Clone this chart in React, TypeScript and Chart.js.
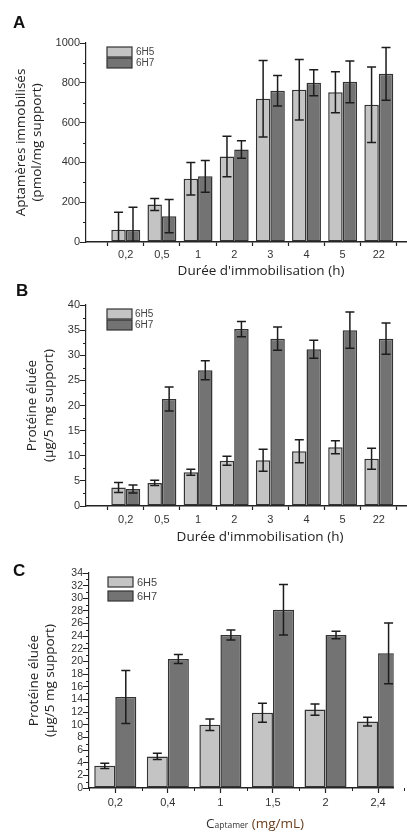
import React, { useEffect, useRef } from 'react';
import { Chart, registerables } from 'chart.js';

Chart.register(...registerables);

// ---------- data ----------
const SERIES = ['6H5', '6H7'];

const DURATION_LABELS = ['0,2', '0,5', '1', '2', '3', '4', '5', '22'];

const A_6H5 = [62, 188, 318, 430, 720, 765, 752, 690];
const A_6H5_ERR = [88, 30, 82, 102, 192, 152, 103, 190];
const A_6H7 = [60, 130, 330, 465, 760, 800, 805, 845];
const A_6H7_ERR = [115, 83, 80, 44, 77, 65, 105, 133];
const A_Y_MAJOR = [0, 200, 400, 600, 800, 1000];

const B_6H5 = [3.7, 4.6, 6.7, 9.0, 9.1, 10.9, 11.7, 9.4];
const B_6H5_ERR = [1.0, 0.5, 0.6, 0.9, 2.2, 2.3, 1.3, 2.1];
const B_6H7 = [3.4, 21.3, 27.0, 35.2, 33.3, 31.2, 35.0, 33.3];
const B_6H7_ERR = [0.8, 2.4, 1.9, 1.5, 2.3, 1.8, 3.6, 3.1];
const B_Y_MAJOR = [0, 5, 10, 15, 20, 25, 30, 35, 40];

const CONC_LABELS = ['0,2', '0,4', '1', '1,5', '2', '2,4'];
const C_6H5 = [3.5, 5.0, 10.0, 11.9, 12.4, 10.5];
const C_6H5_ERR = [0.4, 0.5, 0.9, 1.5, 0.9, 0.7];
const C_6H7 = [14.4, 20.4, 24.2, 28.2, 24.2, 21.3];
const C_6H7_ERR = [4.2, 0.7, 0.8, 4.0, 0.6, 4.8];
const C_Y_MAJOR = [0, 2, 4, 6, 8, 10, 12, 14, 16, 18, 20, 22, 24, 26, 28, 30, 32, 34];

// ---------- styles ----------
const FILLS = ['#c4c4c4', '#737373'];
const BORDER = '#333333';
const AXIS = '#222222';
const TICK_FONT = 'Liberation Sans';
const TITLE_FONT = 'Open Sans';

type TitlePart = { text: string; size: number; color: string };

type PanelCfg = {
  top: number;
  height: number;
  letter: string;
  letterX: number;
  letterY: number;
  labels: string[];
  values: number[][];
  errors: number[][];
  yMajor: number[];
  xMin: number;
  xMax: number;
  padTop: number;
  padRight: number;
  yWidth: number;
  xHeight: number;
  yTitle: string[];
  yTitlePad: number;
  yTickSize: number;
  xCenterTicks: boolean;
  xTickPad: number;
  xTitle: TitlePart[];
  xTitleCenter: number;
  xTitleY: number;
  legend: { x: number; y: number; w: number; h: number; step: number; size: number; tx: number };
};

function Panel({ cfg }: { cfg: PanelCfg }) {
  const ref = useRef<HTMLCanvasElement>(null);

  useEffect(() => {
    const canvas = ref.current!;
    const n = cfg.labels.length;
    const xTicks: number[] = [];
    for (let i = 0; i <= n; i++) {
      xTicks.push(i - 0.5);
      if (i < n) xTicks.push(i);
    }
    const yTicks: number[] = [];
    cfg.yMajor.forEach((v, i) => {
      yTicks.push(v);
      if (i < cfg.yMajor.length - 1) yTicks.push((v + cfg.yMajor[i + 1]) / 2);
    });
    const yMax = cfg.yMajor[cfg.yMajor.length - 1];
    const isMajorY = (v: number) => cfg.yMajor.includes(v);

    const decor = {
      id: 'decor',
      afterDatasetsDraw(chart: any) {
        const ctx = chart.ctx;
        const ys = chart.scales.y;
        const area = chart.chartArea;
        ctx.save();
        ctx.beginPath();
        ctx.rect(area.left, 0, area.right - area.left, area.bottom);
        ctx.clip();
        ctx.strokeStyle = '#1c1c1c';
        ctx.lineWidth = 1.5;
        chart.data.datasets.forEach((ds: any, d: number) => {
          const meta = chart.getDatasetMeta(d);
          meta.data.forEach((el: any, j: number) => {
            const v = ds.data[j].y;
            const e = cfg.errors[d][j];
            const yt = ys.getPixelForValue(v + e);
            const yb = ys.getPixelForValue(v - e);
            const x = el.x;
            const cap = 4.5;
            ctx.beginPath();
            ctx.moveTo(x, yt);
            ctx.lineTo(x, yb);
            ctx.moveTo(x - cap, yt);
            ctx.lineTo(x + cap, yt);
            ctx.moveTo(x - cap, yb);
            ctx.lineTo(x + cap, yb);
            ctx.stroke();
          });
        });
        ctx.restore();
      },
      afterDraw(chart: any) {
        const ctx = chart.ctx;
        const xs = chart.scales.x;
        const ys = chart.scales.y;
        const area = chart.chartArea;
        ctx.save();
        // minor tick marks (shorter)
        ctx.strokeStyle = AXIS;
        ctx.lineWidth = 1;
        ctx.beginPath();
        yTicks.forEach((v) => {
          if (isMajorY(v)) return;
          const py = Math.round(ys.getPixelForValue(v)) + 0.5;
          ctx.moveTo(area.left - 3, py);
          ctx.lineTo(area.left, py);
        });
        if (cfg.xCenterTicks) {
          xTicks.forEach((v) => {
            if (Number.isInteger(v)) return;
            const px = Math.round(xs.getPixelForValue(v)) + 0.5;
            ctx.moveTo(px, area.bottom);
            ctx.lineTo(px, area.bottom + 3);
          });
        }
        ctx.stroke();
        // legend
        const lg = cfg.legend;
        SERIES.forEach((name, i) => {
          const y = lg.y + i * lg.step;
          ctx.fillStyle = FILLS[i];
          ctx.fillRect(lg.x, y, lg.w, lg.h);
          ctx.strokeStyle = BORDER;
          ctx.lineWidth = 1.2;
          ctx.strokeRect(lg.x, y, lg.w, lg.h);
          ctx.fillStyle = '#444';
          ctx.font = `${lg.size}px "${TICK_FONT}"`;
          ctx.textBaseline = 'middle';
          ctx.textAlign = 'left';
          ctx.fillText(name, lg.tx, y + lg.h / 2 + 0.5);
        });
        // x title
        let total = 0;
        cfg.xTitle.forEach((p) => {
          ctx.font = `${p.size}px "${TITLE_FONT}"`;
          total += ctx.measureText(p.text).width;
        });
        let x = cfg.xTitleCenter - total / 2;
        ctx.textBaseline = 'middle';
        ctx.textAlign = 'left';
        cfg.xTitle.forEach((p) => {
          ctx.font = `${p.size}px "${TITLE_FONT}"`;
          ctx.fillStyle = p.color;
          ctx.fillText(p.text, x, cfg.xTitleY + (p.size < 12 ? 1.5 : 0));
          x += ctx.measureText(p.text).width;
        });
        // panel letter
        ctx.font = `bold 17px "${TICK_FONT}"`;
        ctx.fillStyle = '#111';
        ctx.textBaseline = 'alphabetic';
        ctx.fillText(cfg.letter, cfg.letterX, cfg.letterY);
        ctx.restore();
      },
    };

    const chart = new Chart(canvas, {
      type: 'bar',
      data: {
        datasets: SERIES.map((name, i) => ({
          label: name,
          data: cfg.values[i].map((v, j) => ({ x: j, y: v })),
          backgroundColor: FILLS[i],
          borderColor: BORDER,
          borderWidth: 1.5,
          borderSkipped: false,
          // ruler spacing is half a category (tick marks sit at the group boundaries)
          categoryPercentage: 1.6,
          barPercentage: 1.0,
        })),
      },
      options: {
        responsive: false,
        animation: false,
        layout: { padding: { top: cfg.padTop, right: cfg.padRight, left: 0, bottom: 0 } },
        plugins: { legend: { display: false }, tooltip: { enabled: false } },
        scales: {
          x: {
            type: 'linear',
            offset: false,
            min: cfg.xMin,
            max: cfg.xMax,
            afterBuildTicks: (s: any) => {
              s.ticks = xTicks.map((v) => ({ value: v }));
            },
            afterFit: (s: any) => {
              s.height = cfg.xHeight;
            },
            grid: {
              offset: false,
              drawOnChartArea: false,
              tickLength: cfg.xCenterTicks ? 5 : 4,
              tickColor: (c: any) => {
                const isCenter = Number.isInteger(c.tick?.value);
                if (cfg.xCenterTicks) return isCenter ? AXIS : 'rgba(0,0,0,0)';
                return isCenter ? 'rgba(0,0,0,0)' : AXIS;
              },
              tickWidth: 1.2,
            },
            border: { display: true, color: AXIS, width: 1.4 },
            ticks: {
              autoSkip: false,
              maxRotation: 0,
              padding: cfg.xTickPad,
              color: '#333',
              font: { family: TICK_FONT, size: 11 },
              callback: (v: any) => {
                const n2 = Number(v);
                return Number.isInteger(n2) && n2 >= 0 && n2 < cfg.labels.length ? cfg.labels[n2] : '';
              },
            },
          },
          y: {
            type: 'linear',
            min: 0,
            max: yMax,
            afterBuildTicks: (s: any) => {
              s.ticks = yTicks.map((v) => ({ value: v }));
            },
            afterFit: (s: any) => {
              s.width = cfg.yWidth;
            },
            grid: {
              drawOnChartArea: false,
              tickLength: 6,
              tickColor: (c: any) => (isMajorY(Number(c.tick?.value)) ? AXIS : 'rgba(0,0,0,0)'),
              tickWidth: 1,
            },
            border: { display: true, color: AXIS, width: 1.2 },
            ticks: {
              autoSkip: false,
              padding: 0,
              color: '#333',
              font: { family: TICK_FONT, size: cfg.yTickSize },
              callback: (v: any) => (isMajorY(Number(v)) ? String(v) : ''),
            },
            title: {
              display: true,
              text: cfg.yTitle,
              color: '#222',
              font: { family: TITLE_FONT, size: 13.5, lineHeight: 1.22 },
              padding: { top: cfg.yTitlePad, bottom: 0 },
            },
          },
        },
      },
      plugins: [decor],
    } as any);
    return () => chart.destroy();
  }, []);

  return (
    <div style={{ position: 'absolute', left: 0, top: cfg.top, width: 407, height: cfg.height }}>
      <canvas ref={ref} width={407} height={cfg.height} style={{ display: 'block' }} />
    </div>
  );
}

const PANEL_A: PanelCfg = {
  top: 0,
  height: 282,
  letter: 'A',
  letterX: 13,
  letterY: 28,
  labels: DURATION_LABELS,
  values: [A_6H5, A_6H7],
  errors: [A_6H5_ERR, A_6H7_ERR],
  yMajor: A_Y_MAJOR,
  xMin: -1.1,
  xMax: 7.78,
  padTop: 43,
  padRight: 0,
  yWidth: 86,
  xHeight: 40,
  yTitle: ['Aptamères immobilisés', '(pmol/mg support)'],
  yTitlePad: 12.5,
  yTickSize: 11,
  xCenterTicks: false,
  xTickPad: 2,
  xTitle: [{ text: "Durée d'immobilisation (h)", size: 13.5, color: '#222' }],
  xTitleCenter: 261,
  xTitleY: 271,
  legend: { x: 107, y: 47, w: 25, h: 10, step: 11, size: 10, tx: 136 },
};

const PANEL_B: PanelCfg = {
  top: 280,
  height: 276,
  letter: 'B',
  letterX: 16,
  letterY: 16,
  labels: DURATION_LABELS,
  values: [B_6H5, B_6H7],
  errors: [B_6H5_ERR, B_6H7_ERR],
  yMajor: B_Y_MAJOR,
  xMin: -1.1,
  xMax: 7.78,
  padTop: 25,
  padRight: 0,
  yWidth: 86,
  xHeight: 50,
  yTitle: ['Protéine éluée', '(µg/5 mg support)'],
  yTitlePad: 24,
  yTickSize: 11,
  xCenterTicks: false,
  xTickPad: 3,
  xTitle: [{ text: "Durée d'immobilisation (h)", size: 13.5, color: '#222' }],
  xTitleCenter: 260,
  xTitleY: 257,
  legend: { x: 107, y: 29, w: 25, h: 10, step: 11, size: 10, tx: 135 },
};

const PANEL_C: PanelCfg = {
  top: 556,
  height: 279,
  letter: 'C',
  letterX: 13,
  letterY: 20,
  labels: CONC_LABELS,
  values: [C_6H5, C_6H7],
  errors: [C_6H5_ERR, C_6H7_ERR],
  yMajor: C_Y_MAJOR,
  xMin: -0.5,
  xMax: 5.3,
  padTop: 17,
  padRight: 10,
  yWidth: 89,
  xHeight: 47,
  yTitle: ['Protéine éluée', '(µg/5 mg support)'],
  yTitlePad: 25.5,
  yTickSize: 10.5,
  xCenterTicks: true,
  xTickPad: 3,
  xTitle: [
    { text: 'C', size: 13.5, color: '#333' },
    { text: 'aptamer', size: 8.5, color: '#333' },
    { text: ' (mg/mL)', size: 13.5, color: '#6a4020' },
  ],
  xTitleCenter: 255,
  xTitleY: 268,
  legend: { x: 108, y: 21, w: 25, h: 10, step: 14, size: 11, tx: 137 },
};

export default function App() {
  return (
    <div style={{ position: 'absolute', left: 0, top: 0, width: 407, height: 835, background: '#fff', overflow: 'hidden' }}>
      <Panel cfg={PANEL_A} />
      <Panel cfg={PANEL_B} />
      <Panel cfg={PANEL_C} />
    </div>
  );
}
